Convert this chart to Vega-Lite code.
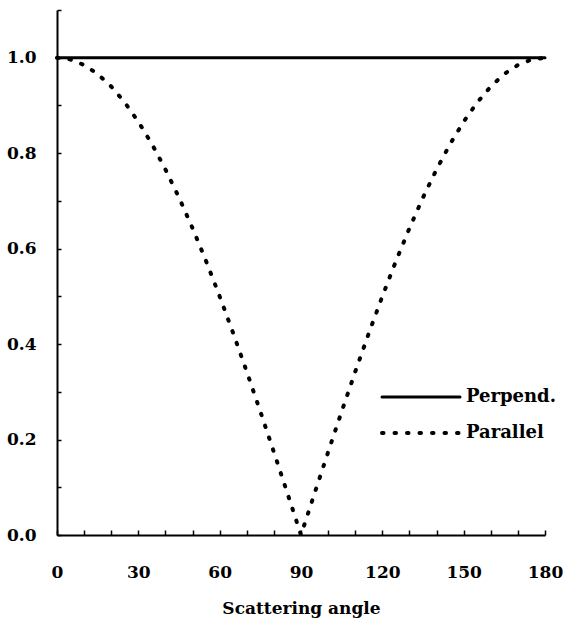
{
  "$schema": "https://vega.github.io/schema/vega-lite/v6.json",
  "width": 488,
  "height": 525,
  "autosize": {"type": "none"},
  "padding": {"left": 57, "top": 10, "right": 21, "bottom": 85},
  "background": "white",
  "config": {
    "view": {"stroke": null},
    "font": "DejaVu Serif",
    "axis": {"grid": false, "domainColor": "black", "domainWidth": 2, "tickColor": "black", "tickWidth": 1.5, "labelColor": "black", "titleColor": "black", "labelFont": "DejaVu Serif", "titleFont": "DejaVu Serif"}
  },
  "data": {"values": [
    {"angle": 0, "value": 1.0, "series": "Perpend."},
    {"angle": 180, "value": 1.0, "series": "Perpend."},
    {"angle": 0, "value": 1.0, "series": "Parallel"},
    {"angle": 5, "value": 0.9962, "series": "Parallel"},
    {"angle": 10, "value": 0.9848, "series": "Parallel"},
    {"angle": 15, "value": 0.9659, "series": "Parallel"},
    {"angle": 20, "value": 0.9397, "series": "Parallel"},
    {"angle": 25, "value": 0.9063, "series": "Parallel"},
    {"angle": 30, "value": 0.866, "series": "Parallel"},
    {"angle": 35, "value": 0.8192, "series": "Parallel"},
    {"angle": 40, "value": 0.766, "series": "Parallel"},
    {"angle": 45, "value": 0.7071, "series": "Parallel"},
    {"angle": 50, "value": 0.6428, "series": "Parallel"},
    {"angle": 55, "value": 0.5736, "series": "Parallel"},
    {"angle": 60, "value": 0.5, "series": "Parallel"},
    {"angle": 65, "value": 0.4226, "series": "Parallel"},
    {"angle": 70, "value": 0.342, "series": "Parallel"},
    {"angle": 75, "value": 0.2588, "series": "Parallel"},
    {"angle": 80, "value": 0.1736, "series": "Parallel"},
    {"angle": 85, "value": 0.0872, "series": "Parallel"},
    {"angle": 90, "value": 0.0, "series": "Parallel"},
    {"angle": 95, "value": 0.0872, "series": "Parallel"},
    {"angle": 100, "value": 0.1736, "series": "Parallel"},
    {"angle": 105, "value": 0.2588, "series": "Parallel"},
    {"angle": 110, "value": 0.342, "series": "Parallel"},
    {"angle": 115, "value": 0.4226, "series": "Parallel"},
    {"angle": 120, "value": 0.5, "series": "Parallel"},
    {"angle": 125, "value": 0.5736, "series": "Parallel"},
    {"angle": 130, "value": 0.6428, "series": "Parallel"},
    {"angle": 135, "value": 0.7071, "series": "Parallel"},
    {"angle": 140, "value": 0.766, "series": "Parallel"},
    {"angle": 145, "value": 0.8192, "series": "Parallel"},
    {"angle": 150, "value": 0.866, "series": "Parallel"},
    {"angle": 155, "value": 0.9063, "series": "Parallel"},
    {"angle": 160, "value": 0.9397, "series": "Parallel"},
    {"angle": 165, "value": 0.9659, "series": "Parallel"},
    {"angle": 170, "value": 0.9848, "series": "Parallel"},
    {"angle": 175, "value": 0.9962, "series": "Parallel"},
    {"angle": 180, "value": 1.0, "series": "Parallel"}
  ]},
  "mark": {"type": "line", "color": "black", "strokeCap": "round", "clip": false},
  "encoding": {
    "x": {
      "field": "angle", "type": "quantitative",
      "scale": {"domain": [0, 180], "nice": false, "zero": false},
      "axis": {
        "values": [0,10,20,30,40,50,60,70,80,90,100,110,120,130,140,150,160,170,180],
        "labelExpr": "datum.value % 30 === 0 ? datum.label : ''",
        "tickSize": -5, "labelPadding": 34, "labelFontSize": 17, "labelFontWeight": "bold",
        "labelFlush": false, "labelOverlap": false,
        "title": "Scattering angle", "titleFontSize": 17, "titleFontWeight": "bold", "titlePadding": 20
      }
    },
    "y": {
      "field": "value", "type": "quantitative",
      "scale": {"domain": [0, 1.1], "nice": false, "zero": true},
      "axis": {
        "values": [0,0.1,0.2,0.3,0.4,0.5,0.6,0.7,0.8,0.9,1.0,1.1],
        "labelExpr": "(round(datum.value*10) % 2 === 0 && datum.value < 1.05) ? format(datum.value, '.1f') : ''",
        "tickSize": -4, "labelPadding": 25, "labelFontSize": 17, "labelFontWeight": "bold",
        "labelFlush": false, "labelOverlap": false, "title": null
      }
    },
    "strokeDash": {
      "field": "series", "type": "nominal",
      "scale": {"domain": ["Perpend.", "Parallel"], "range": [[1, 0], [1.5, 11]]},
      "legend": {
        "title": null, "orient": "none", "legendX": 323, "legendY": 377,
        "symbolType": "stroke", "symbolSize": 100, "symbolStrokeWidth": 3.5,
        "symbolStrokeColor": "black", "labelFontSize": 18, "labelFontWeight": "bold",
        "labelFont": "DejaVu Serif", "labelColor": "black", "rowPadding": 16, "labelOffset": 4,
        "clipHeight": 20,
        "encode": {"symbols": {"update": {"size": {"value": 6084}, "strokeCap": {"value": "round"}}}}
      }
    },
    "strokeWidth": {
      "field": "series", "type": "nominal",
      "scale": {"domain": ["Perpend.", "Parallel"], "range": [3, 4]},
      "legend": null
    }
  }
}
